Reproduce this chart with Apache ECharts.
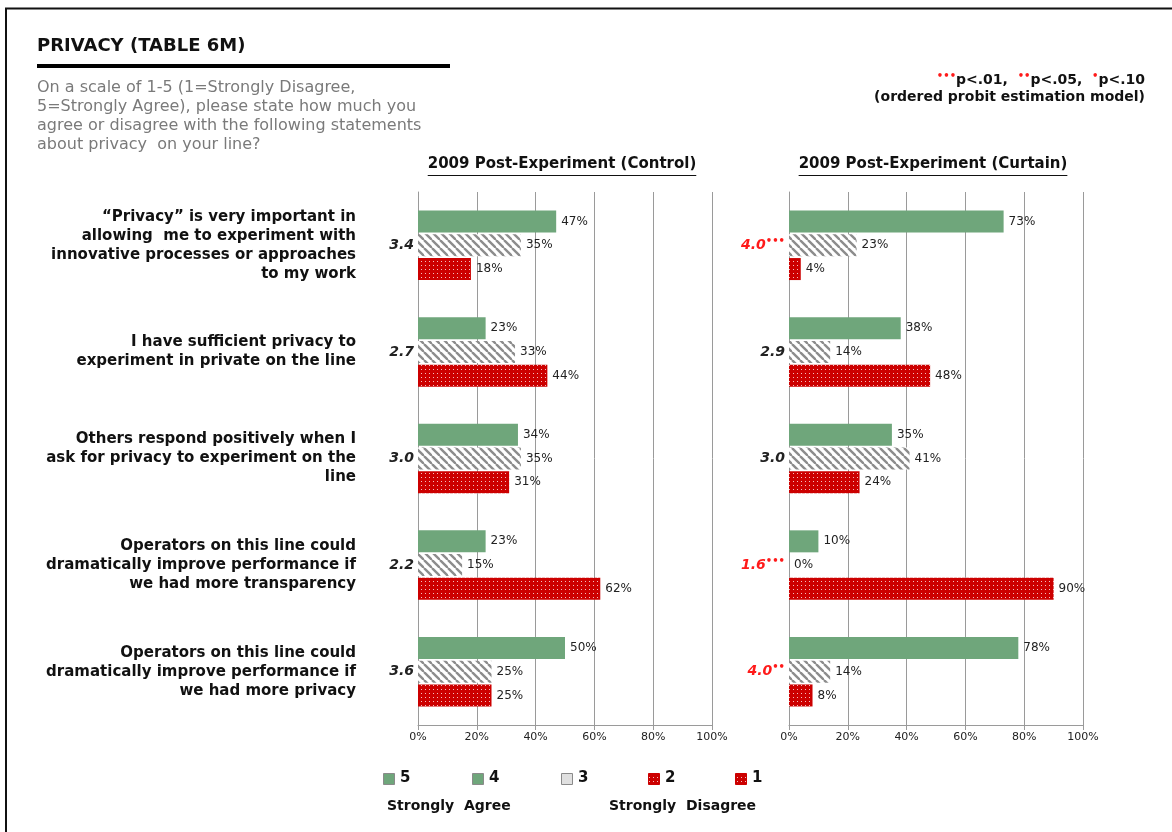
<!DOCTYPE html>
<html>
<head>
<meta charset="utf-8">
<script src="https://cdn.jsdelivr.net/npm/echarts@6/dist/echarts.min.js"></script>
<style>
  html, body { margin: 0; padding: 0; background: #fff; }
  #chart { width: 1172px; height: 832px; }
</style>
</head>
<body>
<div id="chart"></div>
<script>
// Survey statements (one row per statement)
const statements = [
  '\u201cPrivacy\u201d is very important in\nallowing  me to experiment with\ninnovative processes or approaches\nto my work',
  'I have sufficient privacy to\nexperiment in private on the line',
  'Others respond positively when I\nask for privacy to experiment on the\nline',
  'Operators on this line could\ndramatically improve performance if\nwe had more transparency',
  'Operators on this line could\ndramatically improve performance if\nwe had more privacy'
];

// Control group (percent of responses)
const controlAgree    = [47, 23, 34, 23, 50];
const controlNeutral  = [35, 33, 35, 15, 25];
const controlDisagree = [18, 44, 31, 62, 25];
const controlMean     = ['3.4', '2.7', '3.0', '2.2', '3.6'];
const controlSig      = [0, 0, 0, 0, 0];

// Curtain group (percent of responses)
const curtainAgree    = [73, 38, 35, 10, 78];
const curtainNeutral  = [23, 14, 41, 0, 14];
const curtainDisagree = [4, 48, 24, 90, 8];
const curtainMean     = ['4.0', '2.9', '3.0', '1.6', '4.0'];
const curtainSig      = [3, 0, 0, 3, 2];

const xTicks = [0, 20, 40, 60, 80, 100];

const FONT = "'DejaVu Sans', sans-serif";
const GREEN = '#6fa67b';
const RED = '#cc0000';

// Fill patterns: grey diagonal hatch and red with white dots
function hatchPattern() {
  const s = 8;
  const c = document.createElement('canvas');
  c.width = s; c.height = s;
  const ctx = c.getContext('2d');
  ctx.fillStyle = '#fff';
  ctx.fillRect(0, 0, s, s);
  ctx.strokeStyle = '#8c8c8c';
  ctx.lineWidth = 2.4;
  for (const k of [-s, 0, s]) {
    ctx.beginPath();
    ctx.moveTo(k, 0);
    ctx.lineTo(k + s, s);
    ctx.stroke();
  }
  return c;
}
function dotPattern() {
  const s = 4;
  const c = document.createElement('canvas');
  c.width = s; c.height = s;
  const ctx = c.getContext('2d');
  ctx.fillStyle = RED;
  ctx.fillRect(0, 0, s, s);
  ctx.fillStyle = 'rgba(255,255,255,0.75)';
  ctx.fillRect(1, 1, 1, 1);
  return c;
}
const hatchFill = { image: hatchPattern(), repeat: 'repeat' };
const dotFill = { image: dotPattern(), repeat: 'repeat' };

function measure(text, font) {
  const ctx = document.createElement('canvas').getContext('2d');
  ctx.font = font;
  return ctx.measureText(text).width;
}

const GRID_TOP = 192;
const GRID_H = 533;
const GRID_W = 294;
const LEFT_X = [418, 789];

const dotsStr = n => '\u2022'.repeat(n);

function meanFormatter(means, sig) {
  return (v) => {
    const i = +v;
    if (sig[i] > 0) return '{s|' + means[i] + '}{d|' + dotsStr(sig[i]) + '}';
    return '{m|' + means[i] + '}';
  };
}
const meanRich = {
  m: { fontFamily: FONT, fontSize: 14, fontStyle: 'italic', fontWeight: 'bold', color: '#222', lineHeight: 18 },
  s: { fontFamily: FONT, fontSize: 14, fontStyle: 'italic', fontWeight: 'bold', color: '#ff1a1a', lineHeight: 18 },
  d: { fontFamily: FONT, fontSize: 10, fontWeight: 'bold', color: '#ff1a1a', verticalAlign: 'top', lineHeight: 16 }
};

const idxCats = statements.map((_, i) => String(i));

function xAxisCfg(gridIndex) {
  return {
    gridIndex, type: 'value', min: 0, max: 100, interval: 20,
    axisLine: { show: true, lineStyle: { color: '#9a9a9a', width: 1 } },
    axisTick: { show: true, length: 5, lineStyle: { color: '#9a9a9a' } },
    splitLine: { show: true, lineStyle: { color: '#9a9a9a', width: 1 } },
    axisLabel: {
      formatter: v => xTicks.includes(v) ? v + '%' : '',
      fontFamily: FONT, fontSize: 11, color: '#222', margin: 7
    }
  };
}

function barSeries(data, fill, xi, yi, name) {
  return {
    type: 'bar', name, xAxisIndex: xi, yAxisIndex: yi, data,
    barWidth: 22, barGap: '8%',
    itemStyle: { color: fill },
    label: {
      show: true, position: 'right', distance: 5,
      formatter: '{c}%', fontFamily: FONT, fontSize: 12, color: '#222'
    },
    emphasis: { disabled: true },
    animation: false
  };
}

const chart = echarts.init(document.getElementById('chart'), null, { renderer: 'canvas' });

const panelTitles = ['2009 Post-Experiment (Control)', '2009 Post-Experiment (Curtain)'];
const panelFont = 'bold 15px ' + FONT;
const panelGraphics = [];
panelTitles.forEach((t, k) => {
  const cx = LEFT_X[k] + GRID_W / 2 - 3;
  const w = measure(t, panelFont);
  panelGraphics.push({
    type: 'text', left: cx - w / 2, top: 157,
    style: { text: t, font: panelFont, fill: '#111' }
  });
  panelGraphics.push({
    type: 'line', shape: { x1: cx - w / 2, y1: 175.5, x2: cx + w / 2, y2: 175.5 },
    style: { stroke: '#111', lineWidth: 1 }
  });
});

// Bottom key
const keyItems = [
  { label: '5', x: 383, fill: GREEN, stroke: '#8a8a8a' },
  { label: '4', x: 472, fill: GREEN, stroke: '#8a8a8a' },
  { label: '3', x: 561, fill: '#e0e0e0', stroke: '#8a8a8a' },
  { label: '2', x: 648, fill: dotFill, stroke: '#cc0000' },
  { label: '1', x: 735, fill: dotFill, stroke: '#cc0000' }
];
const keyGraphics = [];
keyItems.forEach(it => {
  keyGraphics.push({
    type: 'rect', shape: { x: it.x + 0.5, y: 773.5, width: 11, height: 11 },
    style: { fill: it.fill, stroke: it.stroke, lineWidth: 1 }
  });
  keyGraphics.push({
    type: 'text', left: it.x + 17, top: 771,
    style: { text: it.label, font: 'bold 15px ' + FONT, fill: '#111' }
  });
});
keyGraphics.push({
  type: 'text', left: 387, top: 799,
  style: { text: 'Strongly  Agree', font: 'bold 14px ' + FONT, fill: '#111' }
});
keyGraphics.push({
  type: 'text', left: 609, top: 799,
  style: { text: 'Strongly  Disagree', font: 'bold 14px ' + FONT, fill: '#111' }
});

const option = {
  backgroundColor: '#fff',
  animation: false,
  grid: LEFT_X.map(l => ({ left: l, top: GRID_TOP, width: GRID_W, height: GRID_H, containLabel: false })),
  xAxis: [xAxisCfg(0), xAxisCfg(1)],
  yAxis: [
    {
      gridIndex: 0, type: 'category', data: idxCats, inverse: true,
      axisLine: { show: true, lineStyle: { color: '#9a9a9a' } },
      axisTick: { show: false },
      axisLabel: {
        interval: 0, margin: 62, align: 'right',
        formatter: (v) => statements[+v],
        fontFamily: FONT, fontSize: 15, fontWeight: 'bold', color: '#111', lineHeight: 19
      }
    },
    {
      gridIndex: 0, type: 'category', data: idxCats, inverse: true, position: 'left', offset: 0,
      axisLine: { show: false }, axisTick: { show: false }, splitLine: { show: false },
      axisLabel: { interval: 0, margin: 4, formatter: meanFormatter(controlMean, controlSig), rich: meanRich }
    },
    {
      gridIndex: 1, type: 'category', data: idxCats, inverse: true, position: 'left', offset: 0,
      axisLine: { show: true, lineStyle: { color: '#9a9a9a' } },
      axisTick: { show: false },
      axisLabel: { interval: 0, margin: 4, formatter: meanFormatter(curtainMean, curtainSig), rich: meanRich }
    }
  ],
  series: [
    barSeries(controlAgree, GREEN, 0, 0, 'Agree'),
    barSeries(controlNeutral, hatchFill, 0, 0, 'Neutral'),
    barSeries(controlDisagree, dotFill, 0, 0, 'Disagree'),
    barSeries(curtainAgree, GREEN, 1, 2, 'Agree'),
    barSeries(curtainNeutral, hatchFill, 1, 2, 'Neutral'),
    barSeries(curtainDisagree, dotFill, 1, 2, 'Disagree')
  ],
  graphic: [
    // page frame
    { type: 'line', shape: { x1: 5, y1: 8.5, x2: 1172, y2: 8.5 }, style: { stroke: '#111', lineWidth: 2 } },
    { type: 'line', shape: { x1: 6, y1: 8, x2: 6, y2: 832 }, style: { stroke: '#111', lineWidth: 2 } },
    // heading
    { type: 'text', left: 37, top: 37, style: { text: 'PRIVACY (TABLE 6M)', font: 'bold 18px ' + FONT, fill: '#111' } },
    { type: 'rect', shape: { x: 37, y: 64, width: 413, height: 4 }, style: { fill: '#000' } },
    {
      type: 'text', left: 37, top: 78,
      style: {
        text: 'On a scale of 1-5 (1=Strongly Disagree,\n5=Strongly Agree), please state how much you\nagree or disagree with the following statements\nabout privacy  on your line?',
        font: '16px ' + FONT, fill: '#7a7a7a', lineHeight: 19
      }
    },
    // significance key
    {
      type: 'text', right: 27, top: 71,
      style: {
        text: '{d|\u2022\u2022\u2022}{t|p<.01,  }{d|\u2022\u2022}{t|p<.05,  }{d|\u2022}{t|p<.10}',
        align: 'right',
        rich: {
          t: { font: 'bold 14px ' + FONT, fill: '#111', lineHeight: 18 },
          d: { font: 'bold 10px ' + FONT, fill: '#ff1a1a', verticalAlign: 'top', lineHeight: 15 }
        }
      }
    },
    {
      type: 'text', right: 27, top: 90,
      style: { text: '(ordered probit estimation model)', font: 'bold 14px ' + FONT, fill: '#111', align: 'right' }
    },
    ...panelGraphics,
    ...keyGraphics
  ]
};

chart.setOption(option);
</script>
</body>
</html>
